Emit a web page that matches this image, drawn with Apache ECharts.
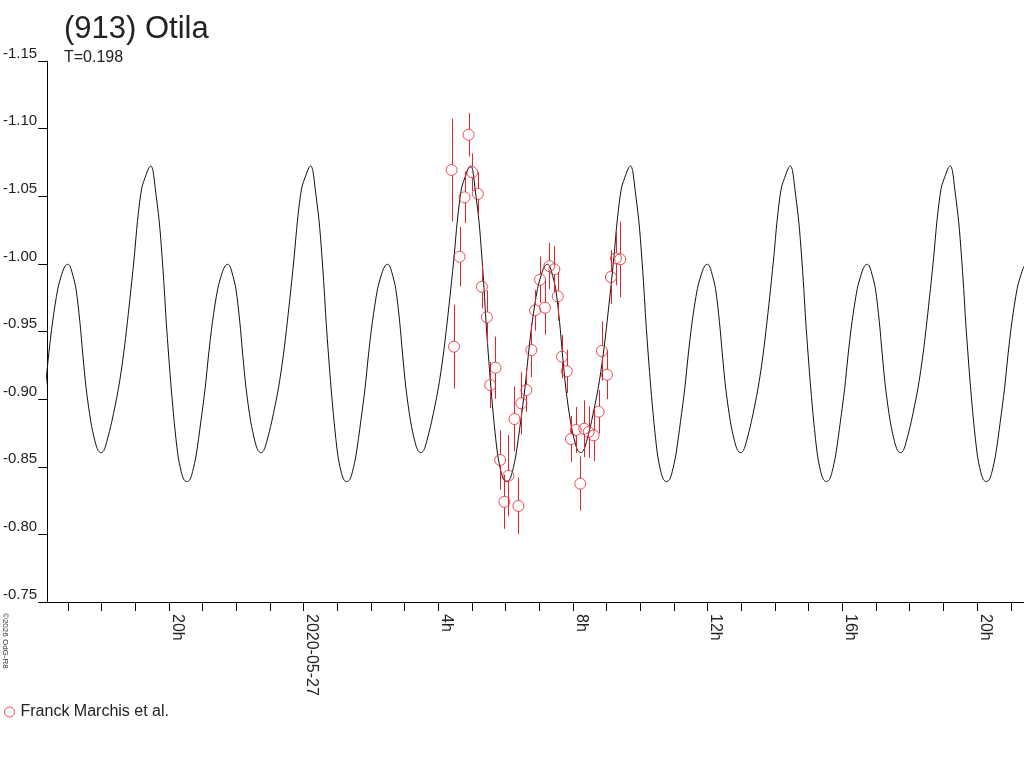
<!DOCTYPE html>
<html><head><meta charset="utf-8">
<script src="https://cdn.jsdelivr.net/npm/echarts@6/dist/echarts.min.js"></script>
<style>html,body{margin:0;padding:0;background:#fff;}#c{width:1024px;height:768px;}</style>
</head><body><div id="c"></div>
<script>
const titleText = '(913) Otila';
const subText = 'T=0.198';
const seriesName = 'Franck Marchis et al.';
const credit = '\u00a92026 OdG-R8';

// time in hours relative to 2020-05-27 00:00
const xMin = -7.615, xMax = 21.393;
const xTickValues = [-7,-6,-5,-4,-3,-2,-1,0,1,2,3,4,5,6,7,8,9,10,11,12,13,14,15,16,17,18,19,20,21];
const xLabelValues = [-4, 0, 4, 8, 12, 16, 20];
const xLabelTexts = ['20h', '2020-05-27', '4h', '8h', '12h', '16h', '20h'];
const yTickValues = [-1.15, -1.10, -1.05, -1.00, -0.95, -0.90, -0.85, -0.80, -0.75];

// observations (Franck Marchis et al.)
const obsTime = [4.394, 4.898, 5.007, 4.779, 5.176, 4.631, 5.295, 5.443, 4.465, 5.698, 5.541, 5.837, 6.083, 5.964, 6.379, 6.261, 6.468, 6.616, 6.764, 6.874, 7.170, 7.022, 7.298, 7.446, 7.547, 7.674, 7.813, 7.941, 8.080, 8.335, 8.465, 8.613, 8.216, 8.761, 8.859, 9.007, 9.126, 9.274, 9.401];
const obsMag = [-1.0694, -1.0955, -1.0677, -1.0492, -1.0517, -1.0053, -0.9831, -0.9605, -0.9388, -0.9232, -0.9104, -0.8550, -0.8434, -0.8241, -0.8210, -0.8853, -0.8969, -0.9067, -0.9363, -0.9657, -0.9676, -0.9883, -0.9984, -0.9960, -0.9760, -0.9314, -0.9206, -0.8705, -0.8772, -0.8781, -0.8757, -0.8732, -0.8375, -0.8907, -0.9356, -0.9180, -0.9903, -1.0041, -1.0034];
const obsErr = [0.038, 0.016, 0.014, 0.019, 0.016, 0.022, 0.016, 0.020, 0.031, 0.023, 0.017, 0.022, 0.030, 0.020, 0.021, 0.024, 0.023, 0.016, 0.020, 0.015, 0.020, 0.017, 0.017, 0.017, 0.018, 0.016, 0.016, 0.017, 0.017, 0.021, 0.019, 0.019, 0.020, 0.016, 0.022, 0.018, 0.020, 0.020, 0.028];

const cycleMaxTimes = [-9.282, -4.533, 0.215, 4.963, 9.711, 14.459, 19.207];
const shapeOffset = [0, 0.059, 0.127, 0.246, 0.326, 0.394, 0.453, 0.524, 0.601, 0.690, 0.800, 0.898, 0.978, 1.067, 1.156, 1.236, 1.342, 1.481, 1.609, 1.710, 1.828, 1.985, 2.124, 2.200, 2.281, 2.340, 2.400, 2.519, 2.637, 2.726, 2.824, 2.963, 3.090, 3.180, 3.268, 3.350, 3.437, 3.585, 3.784, 3.932, 4.050, 4.157, 4.258, 4.347, 4.474, 4.607, 4.690];
const shapeMag = [-1.0724, -1.0690, -1.0559, -1.0312, -1.0066, -0.9819, -0.9573, -0.9326, -0.9080, -0.8833, -0.8587, -0.8464, -0.8405, -0.8390, -0.8405, -0.8464, -0.8587, -0.8833, -0.9080, -0.9326, -0.9573, -0.9819, -0.9942, -0.9985, -0.9997, -0.9985, -0.9942, -0.9819, -0.9573, -0.9326, -0.9080, -0.8833, -0.8685, -0.8620, -0.8604, -0.8620, -0.8685, -0.8833, -0.9080, -0.9326, -0.9573, -0.9819, -1.0066, -1.0312, -1.0559, -1.0660, -1.0712];

const FONT = "'Liberation Sans', Arial, sans-serif";
const TXT = '#222';
const RED = '#e8202a';

const curve = [];
cycleMaxTimes.forEach(function (t0) {
  shapeOffset.forEach(function (o, i) { curve.push([t0 + o, shapeMag[i]]); });
});
const obs = obsTime.map(function (t, i) { return [t, obsMag[i]]; });
const bars = obsTime.map(function (t, i) { return [t, obsMag[i] - obsErr[i], obsMag[i] + obsErr[i], obsMag[i]]; });

const chart = echarts.init(document.getElementById('c'), null, {renderer: 'canvas'});
chart.setOption({
  animation: false,
  backgroundColor: '#fff',
  title: {
    text: titleText, subtext: subText, left: 64, top: 14, padding: 0, itemGap: 5,
    textStyle: {fontFamily: FONT, fontSize: 31, fontWeight: 'normal', color: TXT},
    subtextStyle: {fontFamily: FONT, fontSize: 16, color: TXT}
  },
  legend: {
    data: [seriesName], left: 4, top: 704, padding: 0,
    itemWidth: 12, itemHeight: 10, itemGap: 5,
    itemStyle: {color: 'rgba(255,255,255,0)', borderColor: RED, borderWidth: 1},
    textStyle: {fontFamily: FONT, fontSize: 16, color: TXT}
  },
  grid: {left: 45, right: 0, top: 61, bottom: 166, containLabel: false},
  xAxis: {
    type: 'value', min: xMin, max: xMax,
    axisLine: {show: true, onZero: false, lineStyle: {color: '#000', width: 1}},
    axisTick: {show: true, length: 9, customValues: xTickValues, lineStyle: {color: '#000'}},
    axisLabel: {
      customValues: xLabelValues, rotate: -90, verticalAlign: 'bottom', margin: 12,
      fontFamily: FONT, fontSize: 16, color: TXT,
      formatter: function (v) {
        for (let i = 0; i < xLabelValues.length; i++) if (Math.abs(xLabelValues[i] - v) < 1e-6) return xLabelTexts[i];
        return '';
      }
    },
    splitLine: {show: false}
  },
  yAxis: {
    type: 'value', min: -1.15, max: -0.75, inverse: true,
    axisLine: {show: true, onZero: false, lineStyle: {color: '#000', width: 1}},
    axisTick: {show: true, length: 9, customValues: yTickValues, lineStyle: {color: '#000'}},
    axisLabel: {
      customValues: yTickValues, verticalAlign: 'bottom', margin: 10,
      fontFamily: FONT, fontSize: 15, color: TXT,
      formatter: function (v) { return v.toFixed(2); }
    },
    splitLine: {show: false}
  },
  graphic: [{
    type: 'text', x: 1, y: 613, rotation: -Math.PI / 2,
    style: {text: credit, x: 0, y: 0, fontFamily: FONT, fontSize: 8, fill: '#333', align: 'left', verticalAlign: 'bottom'}
  }],
  series: [
    {
      type: 'line', data: curve, showSymbol: false, smooth: 0.3, clip: true,
      lineStyle: {color: '#111', width: 1}, silent: true, z: 2
    },
    {
      type: 'custom', data: bars, silent: true, z: 3,
      renderItem: function (params, api) {
        const t = api.value(0);
        const a = api.coord([t, api.value(1)]);
        const b = api.coord([t, api.value(2)]);
        const c = api.coord([t, api.value(3)]);
        const x = Math.round(c[0]) + 0.5;
        const top = Math.min(a[1], b[1]), bot = Math.max(a[1], b[1]);
        const r = 5.5;
        return {type: 'group', children: [
          {type: 'line', shape: {x1: x, y1: top, x2: x, y2: c[1] - r}, style: {stroke: RED, lineWidth: 1}},
          {type: 'line', shape: {x1: x, y1: c[1] + r, x2: x, y2: bot}, style: {stroke: RED, lineWidth: 1}}
        ]};
      }
    },
    {
      name: seriesName, type: 'scatter', data: obs, symbol: 'circle', symbolSize: 11,
      itemStyle: {color: 'rgba(255,255,255,0)', borderColor: RED, borderWidth: 1}, z: 4
    }
  ]
});
</script>
</body></html>
